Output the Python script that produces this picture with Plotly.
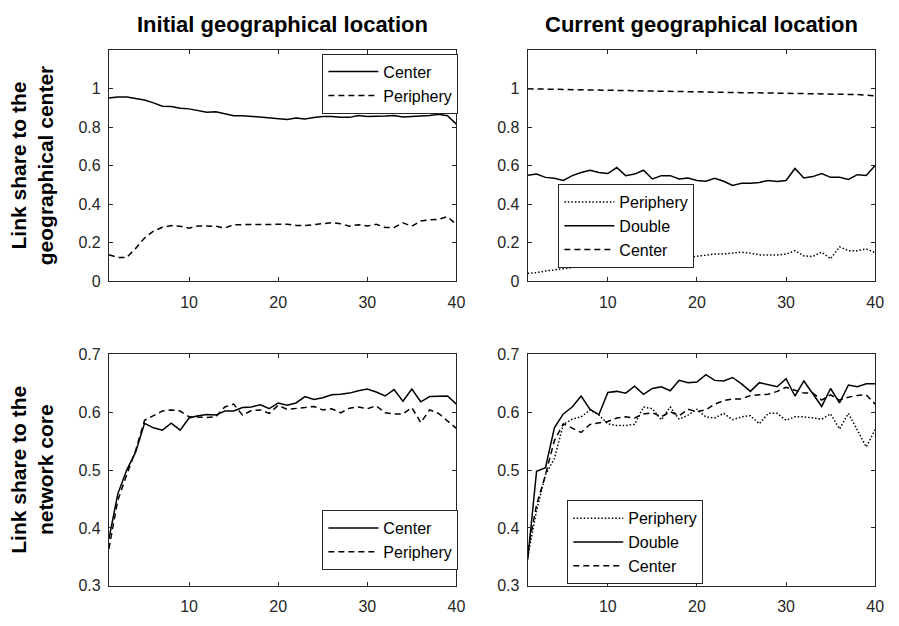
import plotly.graph_objects as go

x = list(range(1, 41))

# Top-left: Initial geographical location, link share to geographical center
tl_center = [0.950, 0.955, 0.956, 0.948, 0.940, 0.925, 0.908, 0.906, 0.897, 0.894,
             0.886, 0.877, 0.879, 0.867, 0.859, 0.859, 0.855, 0.850, 0.847, 0.845,
             0.839, 0.847, 0.842, 0.849, 0.854, 0.854, 0.850, 0.850, 0.860, 0.854,
             0.854, 0.857, 0.860, 0.852, 0.855, 0.857, 0.860, 0.866, 0.858, 0.815]
tl_periphery = [0.138, 0.124, 0.124, 0.171, 0.225, 0.260, 0.280, 0.289, 0.286, 0.276,
                0.287, 0.287, 0.286, 0.276, 0.294, 0.294, 0.294, 0.294, 0.294, 0.297,
                0.296, 0.290, 0.289, 0.294, 0.299, 0.304, 0.299, 0.286, 0.294, 0.287,
                0.296, 0.279, 0.279, 0.303, 0.286, 0.313, 0.319, 0.322, 0.335, 0.295]

# Top-right: Current geographical location, link share to geographical center
tr_periphery = [0.042, 0.045, 0.054, 0.059, 0.065, 0.069, 0.077, 0.074, 0.092, 0.095,
                0.099, 0.104, 0.109, 0.099, 0.107, 0.112, 0.107, 0.112, 0.124, 0.129,
                0.134, 0.142, 0.142, 0.146, 0.151, 0.146, 0.137, 0.137, 0.137, 0.141,
                0.159, 0.132, 0.129, 0.151, 0.117, 0.179, 0.159, 0.159, 0.168, 0.149]
tr_double = [0.550, 0.556, 0.539, 0.534, 0.523, 0.548, 0.564, 0.576, 0.564, 0.559,
             0.590, 0.548, 0.556, 0.576, 0.531, 0.548, 0.548, 0.531, 0.536, 0.523,
             0.519, 0.534, 0.519, 0.497, 0.509, 0.509, 0.513, 0.523, 0.518, 0.523,
             0.585, 0.536, 0.543, 0.559, 0.539, 0.539, 0.528, 0.553, 0.549, 0.601]
tr_center = [0.998, 0.997, 0.996, 0.996, 0.995, 0.994, 0.994, 0.993, 0.993, 0.992,
             0.991, 0.990, 0.989, 0.989, 0.988, 0.987, 0.986, 0.985, 0.984, 0.983,
             0.982, 0.981, 0.980, 0.979, 0.978, 0.978, 0.977, 0.976, 0.975, 0.973,
             0.972, 0.972, 0.971, 0.971, 0.970, 0.970, 0.969, 0.969, 0.966, 0.961]

# Bottom-left: Initial geographical location, link share to network core
bl_center = [0.381, 0.459, 0.500, 0.531, 0.581, 0.573, 0.569, 0.581, 0.569, 0.590,
             0.594, 0.596, 0.595, 0.602, 0.602, 0.608, 0.609, 0.613, 0.606, 0.616,
             0.612, 0.616, 0.627, 0.622, 0.625, 0.630, 0.631, 0.633, 0.637, 0.640,
             0.635, 0.628, 0.639, 0.619, 0.640, 0.618, 0.627, 0.628, 0.628, 0.614]
bl_periphery = [0.364, 0.448, 0.492, 0.534, 0.586, 0.594, 0.602, 0.604, 0.602, 0.592,
                0.591, 0.591, 0.592, 0.609, 0.614, 0.595, 0.603, 0.604, 0.598, 0.612,
                0.605, 0.606, 0.608, 0.610, 0.604, 0.606, 0.599, 0.607, 0.609, 0.606,
                0.611, 0.599, 0.597, 0.597, 0.608, 0.582, 0.604, 0.598, 0.585, 0.572]

# Bottom-right: Current geographical location, link share to network core
br_periphery = [0.350, 0.430, 0.492, 0.520, 0.579, 0.588, 0.592, 0.604, 0.595, 0.580,
                0.577, 0.577, 0.579, 0.609, 0.606, 0.587, 0.609, 0.588, 0.595, 0.605,
                0.592, 0.590, 0.598, 0.587, 0.592, 0.594, 0.580, 0.598, 0.598, 0.586,
                0.592, 0.592, 0.590, 0.588, 0.597, 0.571, 0.598, 0.570, 0.540, 0.570]
br_double = [0.345, 0.498, 0.504, 0.573, 0.597, 0.609, 0.628, 0.605, 0.596, 0.634,
             0.636, 0.633, 0.645, 0.631, 0.641, 0.644, 0.637, 0.655, 0.651, 0.652,
             0.665, 0.655, 0.654, 0.660, 0.649, 0.636, 0.651, 0.648, 0.644, 0.658,
             0.628, 0.654, 0.633, 0.610, 0.641, 0.616, 0.647, 0.644, 0.649, 0.649]
br_center = [0.360, 0.440, 0.492, 0.551, 0.580, 0.573, 0.565, 0.579, 0.582, 0.584,
             0.590, 0.592, 0.590, 0.597, 0.599, 0.592, 0.601, 0.594, 0.605, 0.601,
             0.604, 0.614, 0.620, 0.623, 0.623, 0.629, 0.630, 0.631, 0.636, 0.643,
             0.638, 0.633, 0.633, 0.621, 0.630, 0.621, 0.626, 0.629, 0.630, 0.614]

col_titles = ["Initial geographical location", "Current geographical location"]
row_titles = ["Link share to the<br>geographical center", "Link share to the<br>network core"]

W, H = 899, 626
LINE = "#000000"
AX = "#262626"
SOLID = "solid"
DASH = "6px,4px"
DOT = "1.5px,2px"

fig = go.Figure()

def add(xa, ya, y, name, dash, legend):
    fig.add_trace(go.Scatter(x=x, y=y, mode="lines", name=name, xaxis=xa, yaxis=ya,
                             line=dict(color=LINE, width=1.5, dash=dash), legend=legend))

add("x", "y", tl_center, "Center", SOLID, "legend")
add("x", "y", tl_periphery, "Periphery", DASH, "legend")
add("x2", "y2", tr_periphery, "Periphery", DOT, "legend2")
add("x2", "y2", tr_double, "Double", SOLID, "legend2")
add("x2", "y2", tr_center, "Center", DASH, "legend2")
add("x3", "y3", bl_center, "Center", SOLID, "legend3")
add("x3", "y3", bl_periphery, "Periphery", DASH, "legend3")
add("x4", "y4", br_periphery, "Periphery", DOT, "legend4")
add("x4", "y4", br_double, "Double", SOLID, "legend4")
add("x4", "y4", br_center, "Center", DASH, "legend4")

def px_x(p):
    return p / W

def px_y(p):
    return 1 - p / H

xdom_l = [px_x(110), px_x(461)]
xdom_r = [px_x(533), px_x(884)]
ydom_t = [px_y(281), px_y(43)]
ydom_b = [px_y(594), px_y(356)]

tickfont = dict(family="Liberation Sans, Arial", size=16, color=AX)

def xaxis(dom, anchor):
    return dict(domain=dom, anchor=anchor, range=[1, 40], tickvals=[10, 20, 30, 40],
                showline=True, linecolor=AX, linewidth=1, mirror="allticks",
                ticks="inside", ticklen=4, tickcolor=AX, showgrid=False, zeroline=False,
                tickfont=tickfont, ticklabelstandoff=6)

def yaxis(dom, anchor, rng, tv):
    return dict(domain=dom, anchor=anchor, range=rng, tickvals=tv,
                showline=True, linecolor=AX, linewidth=1, mirror="allticks",
                ticks="inside", ticklen=4, tickcolor=AX, showgrid=False, zeroline=False,
                tickfont=tickfont, ticklabelstandoff=4)

top_ticks = [0, 0.2, 0.4, 0.6, 0.8, 1]
bot_ticks = [0.3, 0.4, 0.5, 0.6, 0.7]

legfont = dict(family="Liberation Sans, Arial", size=16, color="#000")
def legend(xp, yp, xanchor="left"):
    return dict(x=px_x(xp), y=px_y(yp), xanchor=xanchor, yanchor="top",
                bgcolor="white", bordercolor=AX, borderwidth=1, font=legfont,
                itemwidth=50, tracegroupgap=0)

fig.update_layout(
    width=W, height=H, margin=dict(l=0, r=0, t=0, b=0),
    paper_bgcolor="white", plot_bgcolor="white",
    xaxis=xaxis(xdom_l, "y"), yaxis=yaxis(ydom_t, "x", [0, 1.2], top_ticks),
    xaxis2=xaxis(xdom_r, "y2"), yaxis2=yaxis(ydom_t, "x2", [0, 1.2], top_ticks),
    xaxis3=xaxis(xdom_l, "y3"), yaxis3=yaxis(ydom_b, "x3", [0.3, 0.7], bot_ticks),
    xaxis4=xaxis(xdom_r, "y4"), yaxis4=yaxis(ydom_b, "x4", [0.3, 0.7], bot_ticks),
    legend=legend(463, 47, "right"),
    legend2=legend(564, 181),
    legend3=legend(463, 516, "right"),
    legend4=legend(573, 506),
    showlegend=True,
)

title_font = dict(family="Liberation Sans Narrow, Arial Narrow, Liberation Sans", size=22, color="#000")
for i, t in enumerate(col_titles):
    dom = xdom_l if i == 0 else xdom_r
    fig.add_annotation(text="<b>" + t + "</b>", x=(dom[0] + dom[1]) / 2, y=px_y(17),
                       xref="paper", yref="paper", showarrow=False, font=title_font,
                       xanchor="center", yanchor="middle")

row_font = dict(family="Liberation Sans, Arial", size=21, color="#000")
for i, t in enumerate(row_titles):
    dom = ydom_t if i == 0 else ydom_b
    fig.add_annotation(text="<b>" + t + "</b>", x=px_x(32), y=(dom[0] + dom[1]) / 2,
                       xref="paper", yref="paper", showarrow=False, font=row_font,
                       textangle=-90, xanchor="center", yanchor="middle")

fig.write_html("out.html")
